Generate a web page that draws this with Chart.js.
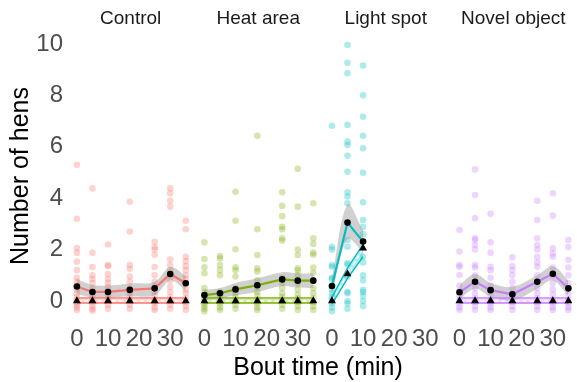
<!DOCTYPE html>
<html>
<head>
<meta charset="utf-8">
<title>Number of hens by bout time</title>
<script src="https://cdn.jsdelivr.net/npm/chart.js@4.4.1/dist/chart.umd.min.js"></script>
<style>
  html, body { margin: 0; padding: 0; background: #fff; }
  #chart { display: block; }
</style>
</head>
<body>
<canvas id="chart" width="577" height="382"></canvas>
<script>
// facets and colours
const panelNames = ["Control", "Heat area", "Light spot", "Novel object"];
const panelColors = ["#F8766D", "#7CAE00", "#00BFC4", "#C77CFF"];

// bout times (min)
const boutTimes = [0, 5, 10, 17, 25, 30, 35];
const lightTimes = [0, 5, 10];

const xTicks = [0, 10, 20, 30];
const yTicks = [0, 2, 4, 6, 8, 10];

// raw counts per bout (one list per bout time)
const controlPoints = [
  [5.3, 3.2, 2.06, 1.87, 1.53, 1.2, 0.9, 0.75, 0.6, 0.45, 0.3, 0.15, 0.05, -0.05, -0.15, -0.25, -0.35],
  [4.38, 1.88, 1.32, 1.0, 0.85, 0.7, 0.5, 0.35, 0.2, 0.1, -0.05, -0.2, -0.3, -0.38],
  [2.2, 1.4, 1.35, 1.05, 0.85, 0.7, 0.55, 0.4, 0.25, 0.1, 0, -0.15, -0.3],
  [3.86, 2.7, 1.4, 1.25, 0.95, 0.75, 0.5, 0.3, 0.15, 0, -0.15, -0.3],
  [2.3, 2.1, 2.0, 1.8, 1.32, 1.0, 0.75, 0.55, 0.35, 0.2, 0.05, -0.1, -0.25, -0.35],
  [4.38, 4.19, 3.9, 3.67, 1.62, 1.4, 1.2, 1.0, 0.8, 0.55, 0.35, 0.15, 0, -0.15, -0.3],
  [3.12, 2.79, 1.72, 1.55, 1.36, 1.2, 1.0, 0.85, 0.65, 0.45, 0.3, 0.1, -0.05, -0.2, -0.35]
];
const heatPoints = [
  [2.28, 1.63, 1.31, 1.08, 0.5, 0.35, 0.2, 0.1, 0, -0.1, -0.2, -0.3, -0.4],
  [1.75, 1.65, 1.4, 1.2, 1.0, 0.35, 0.2, 0.05, -0.1, -0.25, -0.35],
  [4.25, 3.12, 2.01, 1.31, 1.2, 0.95, 0.5, 0.3, 0.15, 0, -0.15, -0.3],
  [6.43, 2.79, 1.79, 1.27, 1.15, 0.8, 0.55, 0.35, 0.2, 0.05, -0.1, -0.25, -0.35],
  [4.23, 3.7, 3.3, 2.89, 2.79, 2.44, 2.35, 0.9, 0.7, 0.5, 0.3, 0.15, 0, -0.15, -0.3],
  [5.14, 3.67, 2.0, 1.79, 1.27, 1.18, 1.0, 0.7, 0.45, 0.25, 0.1, -0.05, -0.2, -0.35],
  [3.8, 2.44, 2.22, 1.88, 1.8, 1.3, 1.1, 0.8, 0.5, 0.3, 0.1, -0.05, -0.2, -0.35]
];
const lightPoints = [
  [6.82, 2.11, 2.0, 1.4, 1.33, 0.9, 0.85, 0.6, 0.45, 0.3, 0.15, 0.05, -0.1, -0.25, -0.4],
  [9.96, 9.27, 8.86, 6.85, 6.2, 6.07, 5.65, 5.03, 4.23, 4.06, 3.8, 2.37, 2.11, 1.47, 1.42, 0.95, 0.36, 0.3, 0, -0.1, -0.3],
  [9.16, 8.0, 7.17, 6.43, 5.94, 4.99, 3.84, 3.15, 2.89, 2.6, 1.72, 1.5, 1.0, 0.8, 0.43, 0.35, 0.2, 0.0, -0.2]
];
const novelPoints = [
  [2.76, 1.92, 1.4, 1.33, 1.01, 0.6, 0.4, 0.2, 0.05, -0.1, -0.25, -0.35],
  [5.12, 4.12, 3.22, 2.44, 2.38, 2.18, 2.0, 1.4, 1.3, 1.0, 0.75, 0.5, 0.3, 0.1, -0.05, -0.2, -0.35],
  [3.39, 2.28, 1.88, 1.33, 1.2, 0.9, 0.6, 0.4, 0.2, 0.05, -0.1, -0.25, -0.35],
  [1.7, 1.36, 1.2, 1.0, 0.75, 0.5, 0.3, 0.1, -0.05, -0.2, -0.35],
  [3.9, 3.15, 2.44, 2.18, 2.0, 1.72, 1.5, 1.33, 1.0, 0.75, 0.5, 0.3, 0.1, -0.05, -0.2, -0.35],
  [4.19, 3.32, 2.05, 1.85, 1.72, 1.3, 1.0, 0.7, 0.45, 0.25, 0.05, -0.1, -0.25, -0.35],
  [2.37, 2.1, 1.6, 1.3, 1.0, 0.7, 0.45, 0.25, 0.05, -0.1, -0.25, -0.35]
];

// means with grey band
const controlMean = [0.56, 0.35, 0.35, 0.43, 0.49, 1.05, 0.69];
const controlMeanHi = [0.85, 0.62, 0.6, 0.68, 0.75, 1.32, 0.98];
const controlMeanLo = [0.28, 0.12, 0.12, 0.18, 0.22, 0.8, 0.4];
const heatMean = [0.23, 0.3, 0.45, 0.61, 0.84, 0.79, 0.79];
const heatMeanHi = [0.42, 0.5, 0.7, 0.88, 1.12, 1.07, 1.08];
const heatMeanLo = [0.05, 0.1, 0.22, 0.35, 0.58, 0.52, 0.5];
const lightMean = [0.58, 3.05, 2.31];
const lightMeanHi = [0.9, 3.75, 2.75];
const lightMeanLo = [0.28, 2.4, 1.9];
const novelMean = [0.34, 0.75, 0.42, 0.26, 0.75, 1.06, 0.49];
const novelMeanHi = [0.62, 1.05, 0.7, 0.55, 1.0, 1.35, 0.8];
const novelMeanLo = [0.08, 0.48, 0.16, 0.02, 0.48, 0.8, 0.2];

// medians with coloured band
const controlMedian = [0, 0, 0, 0, 0, 0, 0];
const controlMedianHi = [0.12, 0.12, 0.12, 0.12, 0.12, 0.12, 0.12];
const controlMedianLo = [-0.08, -0.08, -0.08, -0.08, -0.08, -0.08, -0.08];
const heatMedian = [0, 0, 0, 0, 0, 0, 0];
const heatMedianHi = [0.12, 0.12, 0.12, 0.12, 0.12, 0.12, 0.12];
const heatMedianLo = [-0.08, -0.08, -0.08, -0.08, -0.08, -0.08, -0.08];
const lightMedian = [0, 1.05, 2.05];
const lightMedianHi = [0.15, 1.28, 2.2];
const lightMedianLo = [-0.12, 0.88, 1.72];
const novelMedian = [0, 0, 0, 0, 0, 0, 0];
const novelMedianHi = [0.12, 0.12, 0.12, 0.12, 0.12, 0.12, 0.12];
const novelMedianLo = [-0.08, -0.08, -0.08, -0.08, -0.08, -0.08, -0.08];

const panels = [
  { times: boutTimes, points: controlPoints, mean: controlMean, meanHi: controlMeanHi, meanLo: controlMeanLo,
    median: controlMedian, medianHi: controlMedianHi, medianLo: controlMedianLo },
  { times: boutTimes, points: heatPoints, mean: heatMean, meanHi: heatMeanHi, meanLo: heatMeanLo,
    median: heatMedian, medianHi: heatMedianHi, medianLo: heatMedianLo },
  { times: lightTimes, points: lightPoints, mean: lightMean, meanHi: lightMeanHi, meanLo: lightMeanLo,
    median: lightMedian, medianHi: lightMedianHi, medianLo: lightMedianLo },
  { times: boutTimes, points: novelPoints, mean: novelMean, meanHi: novelMeanHi, meanLo: novelMeanLo,
    median: novelMedian, medianHi: novelMedianHi, medianLo: novelMedianLo }
];

// every facet shares one linear x axis, shifted by PANEL_STEP minutes
const PANEL_STEP = 41;
const X_MIN = -1.7;
const X_MAX = 3 * PANEL_STEP + 36.3;
const FONT = "'Liberation Sans', Arial, Helvetica, sans-serif";

function rgba(hex, a) {
  const n = parseInt(hex.slice(1), 16);
  return `rgba(${(n >> 16) & 255}, ${(n >> 8) & 255}, ${n & 255}, ${a})`;
}

function xy(times, values, p) {
  return times.map((t, i) => ({ x: p * PANEL_STEP + t, y: values[i] }));
}

const datasets = [];
panels.forEach((panel, p) => {
  const col = panelColors[p];

  const raw = [];
  panel.times.forEach((t, i) => {
    panel.points[i].forEach((v) => raw.push({ x: p * PANEL_STEP + t, y: v }));
  });
  datasets.push({
    data: raw, order: 9, pointRadius: 3.3, borderWidth: 0,
    backgroundColor: rgba(col, 0.32), pointHoverRadius: 3.3
  });

  // grey band around the mean
  datasets.push({
    data: xy(panel.times, panel.meanLo, p), order: 8, showLine: true,
    pointRadius: 0, borderWidth: 0, tension: 0.35, fill: false
  });
  datasets.push({
    data: xy(panel.times, panel.meanHi, p), order: 8, showLine: true,
    pointRadius: 0, borderWidth: 0, tension: 0.35,
    fill: "-1", backgroundColor: "rgba(150, 150, 150, 0.45)"
  });

  // mean line
  datasets.push({
    data: xy(panel.times, panel.mean, p), order: 7, showLine: true,
    pointRadius: 0, borderColor: col, borderWidth: 2.2
  });

  // median band
  datasets.push({
    data: xy(panel.times, panel.medianLo, p), order: 6, showLine: true,
    pointRadius: 0, borderColor: col, borderWidth: 1.4, fill: false
  });
  datasets.push({
    data: xy(panel.times, panel.medianHi, p), order: 6, showLine: true,
    pointRadius: 0, borderColor: col, borderWidth: 1.4,
    fill: "-1", backgroundColor: rgba(col, 0.3)
  });
  datasets.push({
    data: xy(panel.times, panel.median, p), order: 5, showLine: true,
    pointRadius: 0, borderColor: "#ffffff", borderWidth: 1.5, borderDash: [4, 3]
  });

  // black mean points and median triangles
  datasets.push({
    data: xy(panel.times, panel.mean, p), order: 2, pointRadius: 3.3,
    pointStyle: "circle", backgroundColor: "#000000", borderWidth: 0
  });
  datasets.push({
    data: xy(panel.times, panel.median, p), order: 1, pointRadius: 4.6,
    pointStyle: "triangle", backgroundColor: "#000000", borderWidth: 0
  });
});

const textPlugin = {
  id: "facetText",
  afterDraw(chart) {
    const { ctx, chartArea } = chart;
    const x = chart.scales.x;
    ctx.save();
    ctx.fillStyle = "#1a1a1a";
    ctx.textAlign = "center";
    ctx.textBaseline = "middle";
    ctx.font = "19px " + FONT;
    panelNames.forEach((name, p) => {
      const mid = x.getPixelForValue(p * PANEL_STEP + (X_MIN + X_MAX - 3 * PANEL_STEP) / 2);
      ctx.fillText(name, mid, 18.5);
    });
    ctx.fillStyle = "#000000";
    ctx.font = "25px " + FONT;
    ctx.textBaseline = "alphabetic";
    ctx.fillText("Bout time (min)", (chartArea.left + chartArea.right) / 2 - 4, 375);
    ctx.translate(28, 176);
    ctx.rotate(-Math.PI / 2);
    ctx.fillText("Number of hens", 0, 0);
    ctx.restore();
  }
};

new Chart(document.getElementById("chart"), {
  type: "scatter",
  data: { datasets: datasets },
  plugins: [textPlugin],
  options: {
    responsive: false,
    animation: false,
    devicePixelRatio: 1,
    layout: { padding: { top: 32.4, right: 0, bottom: 0, left: 0 } },
    plugins: { legend: { display: false }, tooltip: { enabled: false } },
    scales: {
      x: {
        type: "linear",
        min: X_MIN,
        max: X_MAX,
        grid: { display: false, drawTicks: false },
        border: { display: false },
        afterBuildTicks: (scale) => {
          scale.ticks = [];
          panels.forEach((panel, p) => {
            xTicks.forEach((t) => scale.ticks.push({ value: p * PANEL_STEP + t }));
          });
        },
        afterFit: (scale) => { scale.height = 382 - 315.1; },
        ticks: {
          autoSkip: false,
          maxRotation: 0,
          padding: 10,
          color: "#4d4d4d",
          font: { size: 24, family: FONT },
          callback: (value, index) => String(xTicks[index % xTicks.length])
        }
      },
      y: {
        min: -0.55,
        max: 10.45,
        grid: { display: false, drawTicks: false },
        border: { display: false },
        afterBuildTicks: (scale) => {
          scale.ticks = yTicks.map((v) => ({ value: v }));
        },
        afterFit: (scale) => { scale.width = 71.6; },
        ticks: {
          padding: 8.6,
          color: "#4d4d4d",
          font: { size: 24, family: FONT }
        }
      }
    }
  }
});
</script>
</body>
</html>
